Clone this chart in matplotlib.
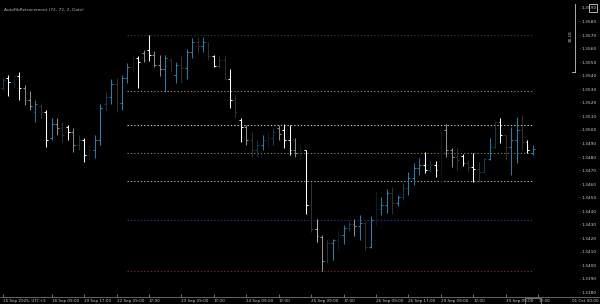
import numpy as np
import matplotlib
matplotlib.use('Agg')
import matplotlib.pyplot as plt
from matplotlib.lines import Line2D
from matplotlib.patches import Rectangle

# OHLC bars (price)
opens = [1.35310, 1.35383, 1.35354, 1.35398, 1.35310, 1.35221, 1.35133, 1.35177, 1.35133, 1.34941,
         1.35044, 1.35014, 1.35022, 1.34985, 1.34889, 1.34926, 1.34815, 1.34852, 1.34926, 1.35191,
         1.35243, 1.35339, 1.35199, 1.35383, 1.35465, 1.35531, 1.35568, 1.35590, 1.35553, 1.35479,
         1.35450, 1.35516, 1.35406, 1.35479, 1.35457, 1.35575, 1.35649, 1.35620, 1.35649, 1.35546,
         1.35472, 1.35516, 1.35376, 1.35221, 1.35073, 1.35022, 1.34926, 1.34852, 1.34889, 1.34926,
         1.34941, 1.35014, 1.35000, 1.34926, 1.34852, 1.34830, 1.34852, 1.34446, 1.34269, 1.34210,
         1.34033, 1.34166, 1.34188, 1.34225, 1.34276, 1.34306, 1.34291, 1.34313, 1.34136, 1.34334,
         1.34417, 1.34446, 1.34535, 1.34461, 1.34505, 1.34572, 1.34645, 1.34720, 1.34741, 1.34705,
         1.34741, 1.34705, 1.35000, 1.34852, 1.34800, 1.34808, 1.34756, 1.34727, 1.34712, 1.34690,
         1.34786, 1.34874, 1.35059, 1.34963, 1.34874, 1.34926, 1.35000, 1.34911, 1.34830]
highs = [1.35391, 1.35406, 1.35413, 1.35428, 1.35332, 1.35288, 1.35221, 1.35199, 1.35147, 1.35088,
         1.35088, 1.35059, 1.35037, 1.35014, 1.34963, 1.34941, 1.34889, 1.34963, 1.35191, 1.35281,
         1.35376, 1.35383, 1.35406, 1.35494, 1.35553, 1.35546, 1.35590, 1.35701, 1.35583, 1.35553,
         1.35553, 1.35531, 1.35501, 1.35553, 1.35597, 1.35679, 1.35686, 1.35686, 1.35649, 1.35553,
         1.35546, 1.35553, 1.35450, 1.35258, 1.35088, 1.35037, 1.34985, 1.34926, 1.34963, 1.34985,
         1.35014, 1.35037, 1.35044, 1.35037, 1.34941, 1.34889, 1.34852, 1.34616, 1.34343, 1.34225,
         1.34188, 1.34195, 1.34262, 1.34299, 1.34327, 1.34343, 1.34372, 1.34321, 1.34365, 1.34549,
         1.34505, 1.34564, 1.34579, 1.34520, 1.34609, 1.34690, 1.34756, 1.34793, 1.34837, 1.34778,
         1.34771, 1.35000, 1.35044, 1.34867, 1.34867, 1.34823, 1.34778, 1.34830, 1.34763, 1.34793,
         1.34941, 1.35059, 1.35088, 1.34963, 1.35022, 1.35096, 1.35110, 1.34926, 1.34889]
lows = [1.35295, 1.35251, 1.35310, 1.35221, 1.35184, 1.35147, 1.35059, 1.35088, 1.34874, 1.34926,
        1.34963, 1.34911, 1.34926, 1.34837, 1.34852, 1.34763, 1.34778, 1.34793, 1.34889, 1.35147,
        1.35191, 1.35133, 1.35147, 1.35346, 1.35428, 1.35310, 1.35501, 1.35509, 1.35465, 1.35398,
        1.35281, 1.35428, 1.35346, 1.35346, 1.35376, 1.35531, 1.35568, 1.35575, 1.35516, 1.35465,
        1.35457, 1.35369, 1.35162, 1.35088, 1.34911, 1.34889, 1.34800, 1.34808, 1.34852, 1.34867,
        1.34889, 1.34926, 1.34867, 1.34815, 1.34800, 1.34778, 1.34380, 1.34247, 1.34173, 1.33959,
        1.34018, 1.34040, 1.34114, 1.34158, 1.34254, 1.34217, 1.34188, 1.34114, 1.34129, 1.34291,
        1.34372, 1.34387, 1.34380, 1.34439, 1.34483, 1.34520, 1.34594, 1.34668, 1.34682, 1.34690,
        1.34653, 1.34609, 1.34800, 1.34727, 1.34705, 1.34734, 1.34690, 1.34616, 1.34616, 1.34690,
        1.34778, 1.34867, 1.34904, 1.34778, 1.34668, 1.34756, 1.34852, 1.34830, 1.34815]
closes = [1.35369, 1.35354, 1.35398, 1.35310, 1.35221, 1.35177, 1.35191, 1.35133, 1.34926, 1.35044,
          1.35014, 1.34963, 1.34985, 1.34889, 1.34926, 1.34815, 1.34852, 1.34926, 1.35162, 1.35243,
          1.35339, 1.35199, 1.35383, 1.35465, 1.35531, 1.35501, 1.35516, 1.35553, 1.35479, 1.35450,
          1.35531, 1.35465, 1.35479, 1.35457, 1.35575, 1.35649, 1.35620, 1.35649, 1.35546, 1.35472,
          1.35516, 1.35376, 1.35221, 1.35133, 1.35022, 1.34926, 1.34852, 1.34889, 1.34926, 1.34941,
          1.34985, 1.34970, 1.34926, 1.34852, 1.34830, 1.34852, 1.34446, 1.34269, 1.34217, 1.34033,
          1.34166, 1.34188, 1.34225, 1.34276, 1.34306, 1.34291, 1.34313, 1.34136, 1.34334, 1.34417,
          1.34446, 1.34535, 1.34461, 1.34505, 1.34572, 1.34645, 1.34720, 1.34741, 1.34705, 1.34741,
          1.34705, 1.34963, 1.34852, 1.34800, 1.34778, 1.34756, 1.34727, 1.34712, 1.34690, 1.34786,
          1.34874, 1.35059, 1.34963, 1.34874, 1.34926, 1.35000, 1.34911, 1.34852, 1.34859]
# tick volume, drives the brightness of each bar
volumes = [520, 1000, 260, 980, 640, 660, 880, 250, 1000, 900,
           650, 260, 990, 640, 500, 1000, 240, 880, 920, 520,
           900, 270, 910, 890, 250, 1000, 660, 1000, 650, 640,
           900, 240, 880, 260, 900, 890, 250, 880, 260, 1000,
           500, 240, 1000, 250, 1000, 650, 250, 500, 880, 250,
           520, 650, 1000, 990, 640, 240, 1000, 260, 780, 680,
           500, 900, 250, 880, 500, 660, 900, 250, 910, 250,
           880, 890, 260, 900, 520, 900, 880, 870, 1000, 500,
           1000, 240, 660, 650, 250, 1000, 250, 1000, 250, 520,
           880, 500, 1000, 250, 880, 900, 250, 1000, 880]

y_ticks = [1.3590 - 0.001 * k for k in range(22)]
x_tick_pos = [0, 9, 15, 21, 27, 33, 39, 45, 51, 57, 63, 69, 75, 81, 87, 93, 99]
x_tick_labels = ['15 Sep 2025, UTC+3', '18 Sep 09:00', '19 Sep 17:00', '22 Sep 09:00', '17:00',
                 '23 Sep 09:00', '17:00', '24 Sep 09:00', '17:00', '25 Sep 09:00', '17:00',
                 '26 Sep 09:00', '26 Sep 17:00', '29 Sep 09:00', '17:00', '30 Sep 09:00', '17:00']

fib_ratios = [0.0, 0.236, 0.382, 0.5, 0.618, 0.786, 1.0]
fib_colors = ['#24402e', '#a47a58', '#c8c8b0', '#5e8c4c', '#90b4a8', '#2c2ca8', '#8c2424']
fib_start = 23

n = len(opens)
x = np.arange(n)
o = np.array(opens); h = np.array(highs); l = np.array(lows); c = np.array(closes)
v = np.array(volumes) / max(volumes)
shade = 0.08 + 0.92 * v ** 1.6

colors = []
for i in range(n):
    if c[i] > o[i]:
        base = np.array([0.24, 0.56, 0.76])
    else:
        base = np.array([1.0, 1.0, 1.0])
    colors.append(tuple(base * shade[i]))

fig = plt.figure(figsize=(6, 3.04), dpi=100, facecolor='black')
ax = fig.add_axes([0, 7 / 304, 548 / 600, 297 / 304])
ax.set_facecolor('black')

# fibonacci levels from the swing in the window
hi = h[fib_start:].max()
lo = l[fib_start:].min()
for r, col in zip(fib_ratios, fib_colors):
    lvl = hi - (hi - lo) * r
    ax.hlines(lvl, fib_start, n - 1, colors=col, linewidth=0.8, linestyles=(0, (1.2, 1.8)))

ax.vlines(x, l, h, colors=colors, linewidth=0.75)
ax.hlines(o, x - 0.35, x, colors=colors, linewidth=0.75)
ax.hlines(c, x, x + 0.35, colors=colors, linewidth=0.75)

ax.set_xlim(-0.55, 100.8)
ax.set_ylim(1.33767, 1.35959)
for s in ax.spines.values():
    s.set_visible(False)

ax.yaxis.tick_right()
ax.set_yticks(y_ticks)
ax.set_yticklabels(['%.4f' % t for t in y_ticks])
ax.tick_params(axis='y', colors='#9a9a9a', labelcolor='#c8c8c8', labelsize=3.2,
               length=0, pad=24)
ax.set_xticks(x_tick_pos)
ax.set_xticklabels(x_tick_labels, ha='left')
ax.tick_params(axis='x', colors='#9a9a9a', labelcolor='#c8c8c8', labelsize=3.0,
               length=2, width=0.5, direction='in', pad=1.2)

# small dash in front of each price label
for t in y_ticks:
    ax.annotate('-', xy=(1, t), xycoords=('axes fraction', 'data'), xytext=(32, 0),
                textcoords='offset pixels', color='#9a9a9a', fontsize=3.0, va='center', ha='left')

# bottom axis line across the whole window
fig.add_artist(Line2D([0, 1], [7 / 304, 7 / 304], color='#8a8a8a', linewidth=0.5))
fig.text(572 / 600, 0.5 / 304, '01 Oct 00:00', color='#c8c8c8', fontsize=3.0, va='bottom')

ax.text(0.007, 0.965, 'AutoFibRetracement (72, 72, 2, Dots)', transform=ax.transAxes,
        color='#b4b4b4', fontsize=3.1, va='center')

# countdown bracket top right
fig.add_artist(Line2D([575 / 600, 575 / 600], [1 - 4 / 304, 1 - 72 / 304], color='#c8c8c8', linewidth=0.6))
fig.add_artist(Line2D([572 / 600, 575 / 600], [1 - 72 / 304, 1 - 72 / 304], color='#c8c8c8', linewidth=0.6))
fig.text(571 / 600, 1 - 36 / 304, '30:18', color='#c8c8c8', fontsize=3.0, rotation=90,
         ha='center', va='center')
fig.add_artist(Rectangle((589 / 600, 1 - 12 / 304), 8 / 600, 8 / 304, fill=False,
                         edgecolor='#d0d0d0', linewidth=0.6))
fig.add_artist(Rectangle((525 / 600, 0.5 / 304), 16 / 600, 6 / 304, fill=False,
                         edgecolor='#9a9a9a', linewidth=0.5))

plt.savefig('out.png', dpi=100, facecolor='black')
